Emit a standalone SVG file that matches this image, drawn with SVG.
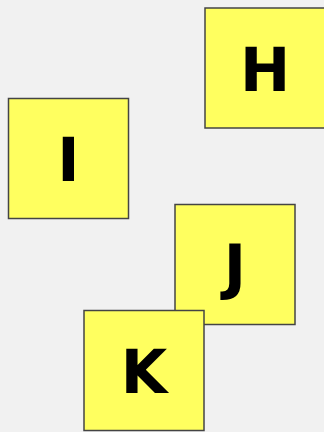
<svg xmlns="http://www.w3.org/2000/svg" width="324" height="432" viewBox="0 0 324 432">
<style>
.box{fill:#ffff5f;stroke:#444;stroke-width:1.5}
.lbl{font-family:"DejaVu Sans",sans-serif;font-weight:bold;font-size:60px;fill:#000;text-anchor:middle}
</style>
<rect width="324" height="432" fill="#f1f1f1"/>
<g id="connectors"></g>
<g id="H"><rect class="box" x="205" y="8" width="120" height="120"/><text class="lbl" x="265" y="90.5">H</text></g>
<g id="I"><rect class="box" x="8.5" y="98.5" width="120" height="120"/><text class="lbl" x="68.5" y="181">I</text></g>
<g id="J"><rect class="box" x="175" y="204.5" width="120" height="120"/><text class="lbl" x="235" y="287">J</text></g>
<g id="K"><rect class="box" x="84" y="310.5" width="120" height="120"/><text class="lbl" x="144" y="393">K</text></g>
</svg>
